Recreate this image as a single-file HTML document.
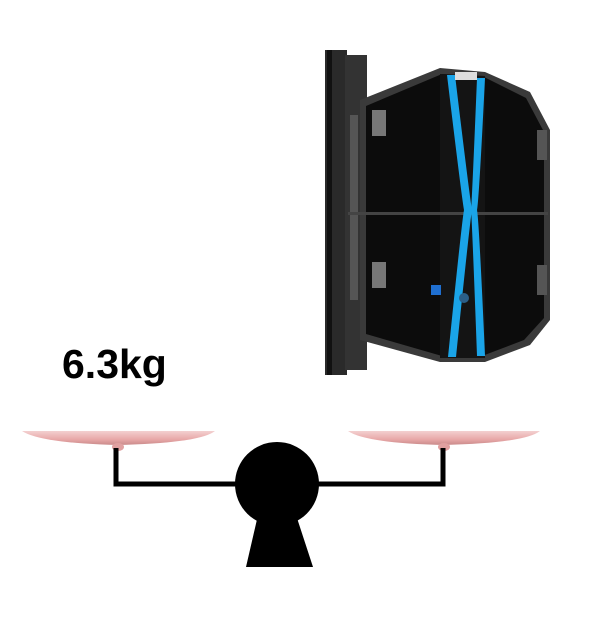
<!DOCTYPE html>
<html><head><style>
html,body{margin:0;padding:0;background:#fff;}
body{width:606px;height:622px;position:relative;overflow:hidden;}
.t{position:absolute;left:62px;top:341px;font:bold 41px "Liberation Sans",sans-serif;color:#000;}
</style></head><body>
<div class="t">6.3kg</div>
<svg width="606" height="622" style="position:absolute;left:0;top:0">
<defs>
<linearGradient id="pan" x1="0" y1="0" x2="0" y2="1">
<stop offset="0" stop-color="#f3d0d0"/><stop offset="0.6" stop-color="#e8a8a8"/><stop offset="1" stop-color="#c98a8a"/></linearGradient>
</defs>
<path d="M22 431 L215 431 Q200 443 118 445 Q40 443 22 431 Z" fill="url(#pan)"/>
<path d="M348 431 L540 431 Q525 443 444 445 Q365 443 348 431 Z" fill="url(#pan)"/>
<ellipse cx="118" cy="447" rx="6" ry="4" fill="#e0a0a0"/>
<ellipse cx="444" cy="447" rx="6" ry="4" fill="#e0a0a0"/>
<path d="M116 448 V484 H443 V448" fill="none" stroke="#000" stroke-width="5"/>
<circle cx="277" cy="484" r="42" fill="#000"/>
<polygon points="258,515 296,515 313,567 246,567" fill="#000"/>
<!-- cabinet -->
<rect x="325" y="50" width="22" height="325" fill="#2a2a2a"/>
<rect x="327" y="50" width="5" height="325" fill="#111"/>
<rect x="345" y="55" width="22" height="315" fill="#333"/>
<rect x="350" y="115" width="8" height="185" fill="#555"/>
<polygon points="360,100 440,68 485,72 530,92 550,130 550,320 530,345 485,362 440,362 360,340" fill="#3a3a3a"/>
<polygon points="366,106 442,74 482,76 526,98 544,132 544,318 524,340 482,356 442,356 366,334" fill="#0c0c0c"/>
<polygon points="440,74 485,76 485,358 440,358" fill="#141414"/>
<rect x="348" y="212" width="200" height="3" fill="#444"/>
<path d="M447 75 L455 75 Q470 200 472 210 Q470 220 456 357 L448 357 Q462 220 464 210 Q462 200 447 75 Z" fill="#1aa4e8"/>
<path d="M477 78 L485 78 Q479 200 477 210 Q479 220 485 356 L477 356 Q472 220 471 210 Q472 200 477 78 Z" fill="#1aa4e8"/>
<rect x="455" y="72" width="22" height="8" fill="#ddd"/>
<rect x="431" y="285" width="10" height="10" fill="#1f6fd0"/>
<circle cx="464" cy="298" r="5" fill="#2b5f88"/>
<rect x="372" y="110" width="14" height="26" fill="#777"/>
<rect x="372" y="262" width="14" height="26" fill="#777"/>
<rect x="537" y="130" width="10" height="30" fill="#555"/>
<rect x="537" y="265" width="10" height="30" fill="#555"/>
</svg>
</body></html>
